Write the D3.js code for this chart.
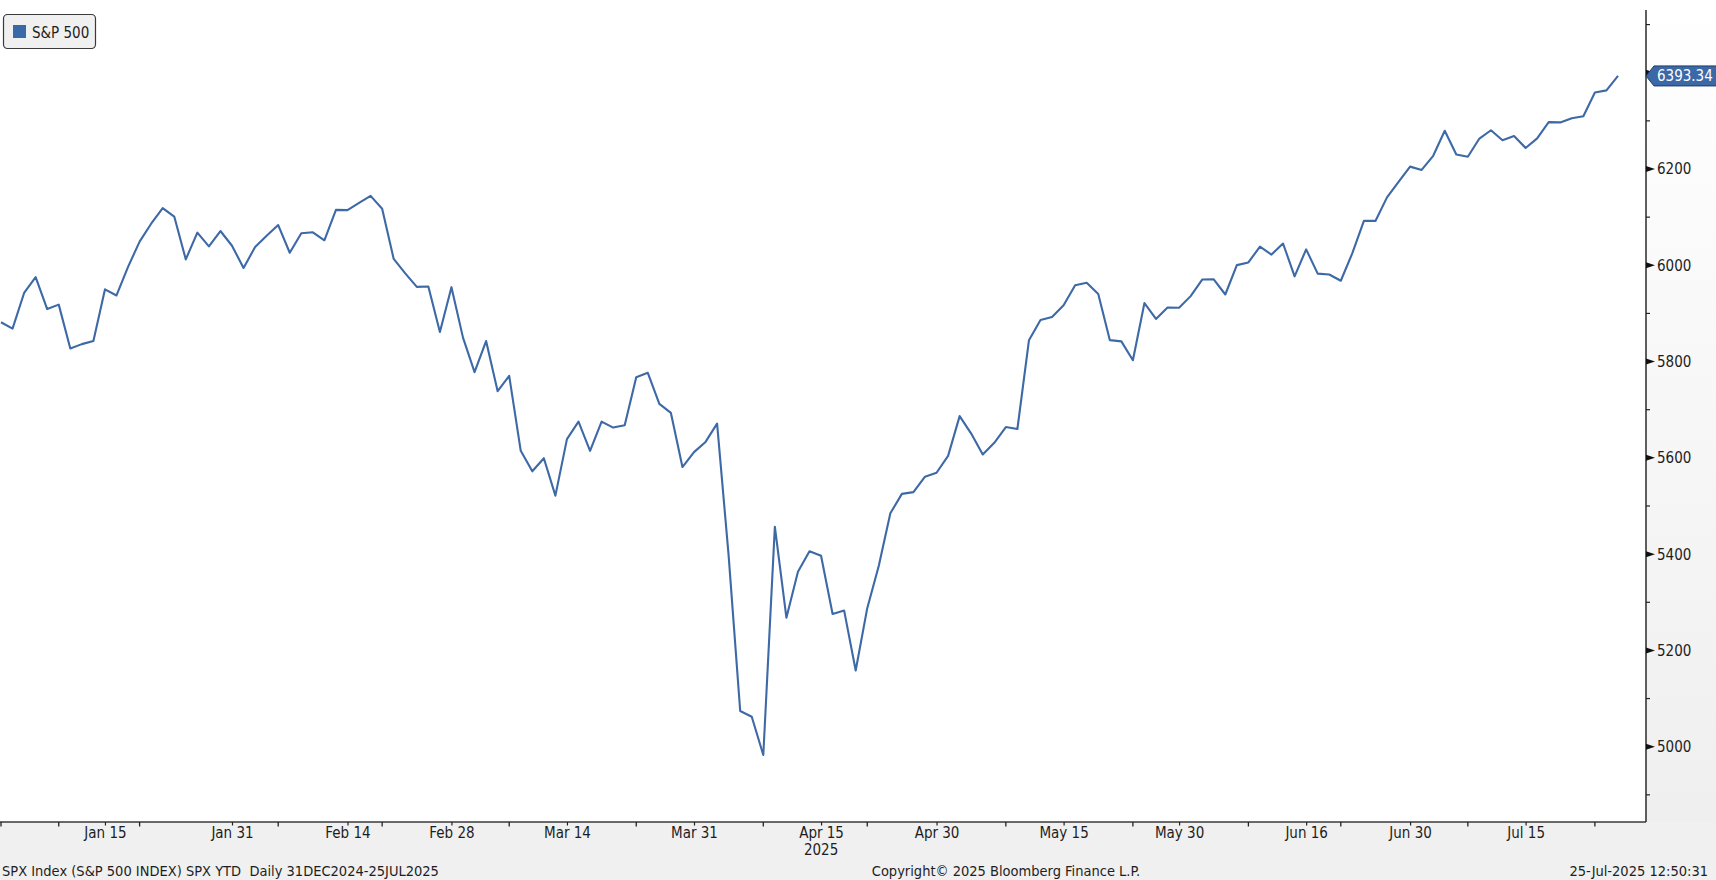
<!DOCTYPE html>
<html>
<head>
<meta charset="utf-8">
<script src="https://cdn.jsdelivr.net/npm/d3@7"></script>
<style>
  html, body { margin: 0; padding: 0; background: #f0f0f0; }
  svg { display: block; }
  text { font-family: "DejaVu Sans Condensed", "DejaVu Sans", sans-serif; }
</style>
</head>
<body>
<svg id="chart" width="1716" height="880"></svg>
<script>
// ---------- DATA ----------
const seriesName = "S&P 500";
const dates = [
  "2024-12-31",
  "2025-01-02","2025-01-03","2025-01-06","2025-01-07","2025-01-08","2025-01-10","2025-01-13","2025-01-14","2025-01-15","2025-01-16","2025-01-17","2025-01-21","2025-01-22","2025-01-23","2025-01-24","2025-01-27","2025-01-28","2025-01-29","2025-01-30","2025-01-31",
  "2025-02-03","2025-02-04","2025-02-05","2025-02-06","2025-02-07","2025-02-10","2025-02-11","2025-02-12","2025-02-13","2025-02-14","2025-02-18","2025-02-19","2025-02-20","2025-02-21","2025-02-24","2025-02-25","2025-02-26","2025-02-27","2025-02-28",
  "2025-03-03","2025-03-04","2025-03-05","2025-03-06","2025-03-07","2025-03-10","2025-03-11","2025-03-12","2025-03-13","2025-03-14","2025-03-17","2025-03-18","2025-03-19","2025-03-20","2025-03-21","2025-03-24","2025-03-25","2025-03-26","2025-03-27","2025-03-28","2025-03-31",
  "2025-04-01","2025-04-02","2025-04-03","2025-04-04","2025-04-07","2025-04-08","2025-04-09","2025-04-10","2025-04-11","2025-04-14","2025-04-15","2025-04-16","2025-04-17","2025-04-21","2025-04-22","2025-04-23","2025-04-24","2025-04-25","2025-04-28","2025-04-29","2025-04-30",
  "2025-05-01","2025-05-02","2025-05-05","2025-05-06","2025-05-07","2025-05-08","2025-05-09","2025-05-12","2025-05-13","2025-05-14","2025-05-15","2025-05-16","2025-05-19","2025-05-20","2025-05-21","2025-05-22","2025-05-23","2025-05-27","2025-05-28","2025-05-29","2025-05-30",
  "2025-06-02","2025-06-03","2025-06-04","2025-06-05","2025-06-06","2025-06-09","2025-06-10","2025-06-11","2025-06-12","2025-06-13","2025-06-16","2025-06-17","2025-06-18","2025-06-20","2025-06-23","2025-06-24","2025-06-25","2025-06-26","2025-06-27","2025-06-30",
  "2025-07-01","2025-07-02","2025-07-03","2025-07-07","2025-07-08","2025-07-09","2025-07-10","2025-07-11","2025-07-14","2025-07-15","2025-07-16","2025-07-17","2025-07-18","2025-07-21","2025-07-22","2025-07-23","2025-07-24","2025-07-25"
];
const closes = [
  5881.63,
  5868.55,5942.47,5975.38,5909.03,5918.25,5827.04,5836.22,5842.91,5949.91,5937.34,5996.66,6049.24,6086.37,6118.71,6101.24,6012.28,6067.70,6039.31,6071.17,6040.53,
  5994.57,6037.88,6061.48,6083.57,6025.99,6066.44,6068.50,6051.97,6115.07,6114.63,6129.58,6144.15,6117.52,6013.13,5983.25,5955.25,5956.06,5861.57,5954.50,
  5849.72,5778.15,5842.63,5738.52,5770.20,5614.56,5572.07,5599.30,5521.52,5638.94,5675.12,5614.66,5675.29,5662.89,5667.56,5767.57,5776.65,5712.20,5693.31,5580.94,5611.85,
  5633.07,5670.97,5396.52,5074.08,5062.25,4982.77,5456.90,5268.05,5363.36,5405.97,5396.63,5275.70,5282.70,5158.20,5287.76,5375.86,5484.77,5525.21,5528.75,5560.83,5569.06,
  5604.14,5686.67,5650.38,5606.91,5631.28,5663.94,5659.91,5844.19,5886.55,5892.58,5916.93,5958.38,5963.60,5940.46,5844.61,5842.01,5802.82,5921.54,5888.55,5912.17,5911.69,
  5935.94,5970.37,5970.81,5939.30,6000.36,6005.88,6038.81,6022.24,6045.26,5976.97,6033.11,5982.72,5980.87,5967.84,6025.17,6092.18,6092.16,6141.02,6173.07,6204.95,
  6198.01,6227.42,6279.35,6229.98,6225.52,6263.26,6280.46,6259.75,6268.56,6243.76,6263.70,6297.36,6296.79,6305.60,6309.62,6358.91,6363.35,6393.34
];
const xLabelDates = ["2025-01-15","2025-01-31","2025-02-14","2025-02-28","2025-03-14","2025-03-31","2025-04-15","2025-04-30","2025-05-15","2025-05-30","2025-06-16","2025-06-30","2025-07-15"];
const xLabels = ["Jan 15","Jan 31","Feb 14","Feb 28","Mar 14","Mar 31","Apr 15","Apr 30","May 15","May 30","Jun 16","Jun 30","Jul 15"];
const xSeparatorDates = ["2024-12-31","2025-01-08","2025-01-21","2025-02-06","2025-02-20","2025-03-07","2025-03-24","2025-04-08","2025-04-22","2025-05-08","2025-05-23","2025-06-09","2025-06-20","2025-07-08","2025-07-23"];
const yearLabelDate = "2025-04-15";
const yearLabel = "2025";
const yMajorTicks = [5000,5200,5400,5600,5800,6000,6200,6400];
const yLabelTicks = [5000,5200,5400,5600,5800,6000,6200];
const yMinorTicks = [4900,5100,5300,5500,5700,5900,6100,6300,6500];
const lastValueLabel = "6393.34";
const footerLeft = "SPX Index (S&P 500 INDEX) SPX YTD  Daily 31DEC2024-25JUL2025";
const footerCenter = "Copyright\u00A9 2025 Bloomberg Finance L.P.";
const footerRight = "25-Jul-2025 12:50:31";

// ---------- LAYOUT ----------
const W = 1716, H = 880;
const plotRight = 1646, plotBottom = 822, axisTop = 10;
const lineColor = "#3d69a6";
const textColor = "#1e1e1e";

const svg = d3.select("#chart");
const defs = svg.append("defs");
const grad = defs.append("linearGradient").attr("id","rg").attr("x1",0).attr("y1",0).attr("x2",0).attr("y2",1);
grad.append("stop").attr("offset","0%").attr("stop-color","#ffffff");
grad.append("stop").attr("offset","100%").attr("stop-color","#efefef");

svg.append("rect").attr("width",W).attr("height",H).attr("fill","#f0f0f0");
svg.append("rect").attr("x",plotRight).attr("y",0).attr("width",W-plotRight).attr("height",plotBottom).attr("fill","url(#rg)");
svg.append("rect").attr("x",0).attr("y",0).attr("width",plotRight).attr("height",plotBottom).attr("fill","#ffffff");

const x = d3.scalePoint().domain(dates).range([1, 1618]);
const y = d3.scaleLinear().domain([5000, 6200]).range([746.7, 169]);

// line
const data = dates.map((d,i)=>({d, v: closes[i]}));
svg.append("path").datum(data)
  .attr("fill","none").attr("stroke",lineColor).attr("stroke-width",2.1)
  .attr("stroke-linejoin","round")
  .attr("d", d3.line().x(p=>x(p.d)).y(p=>y(p.v)));

// x axis
const xAxisG = svg.append("g").attr("transform",`translate(0,${plotBottom})`);
xAxisG.append("line").attr("x1",0).attr("x2",plotRight).attr("y1",0).attr("y2",0)
  .attr("stroke","#3a3a3a").attr("stroke-width",1.5);
xAxisG.selectAll("line.sep").data(xSeparatorDates).join("line").attr("class","sep")
  .attr("x1",d=>x(d)).attr("x2",d=>x(d)).attr("y1",0).attr("y2",4.5)
  .attr("stroke","#222").attr("stroke-width",1.3);
const xAxis = d3.axisBottom(x).tickValues(xLabelDates)
  .tickFormat((d,i)=>xLabels[i]).tickSize(3.5).tickPadding(2);
const xg = xAxisG.append("g").call(xAxis);
xg.select(".domain").remove();
xg.selectAll(".tick line").attr("stroke","#222").attr("stroke-width",1.2);
xg.selectAll(".tick text").attr("font-size",15).attr("fill",textColor)
  .attr("font-family","DejaVu Sans Condensed, DejaVu Sans, sans-serif");
xAxisG.append("text").attr("x",x(yearLabelDate)).attr("y",33).attr("text-anchor","middle")
  .attr("font-size",15).attr("fill",textColor).text(yearLabel);

// y axis
const yg = svg.append("g");
yg.append("line").attr("x1",plotRight).attr("x2",plotRight).attr("y1",axisTop).attr("y2",plotBottom)
  .attr("stroke","#2a2a2a").attr("stroke-width",1.5);
yg.selectAll("line.minor").data(yMinorTicks).join("line").attr("class","minor")
  .attr("x1",plotRight).attr("x2",plotRight+4).attr("y1",d=>y(d)).attr("y2",d=>y(d))
  .attr("stroke","#222").attr("stroke-width",1.2);
yg.selectAll("path.major").data(yMajorTicks).join("path").attr("class","major")
  .attr("d",d=>`M${plotRight},${y(d)-3}L${plotRight+9},${y(d)}L${plotRight},${y(d)+3}Z`)
  .attr("fill","#111");
yg.selectAll("text.ylab").data(yLabelTicks).join("text").attr("class","ylab")
  .attr("x",plotRight+11).attr("y",d=>y(d)).attr("dy","0.36em")
  .attr("font-size",15).attr("fill",textColor).text(d=>d);

// last value tag
const lastV = closes[closes.length-1];
const ty = y(lastV);
svg.append("path")
  .attr("d",`M${plotRight},${ty}L${plotRight+8},${ty-10}L${W+2},${ty-10}L${W+2},${ty+10}L${plotRight+8},${ty+10}Z`)
  .attr("fill","#3b68a6").attr("stroke","#1d3c6b").attr("stroke-width",1);
svg.append("text").attr("x",plotRight+11).attr("y",ty).attr("dy","0.36em")
  .attr("font-size",15).attr("fill","#ffffff").text(lastValueLabel);

// legend
const lg = svg.append("g");
lg.append("rect").attr("x",3.5).attr("y",14.5).attr("width",92).attr("height",34).attr("rx",4)
  .attr("fill","#f0f0f0").attr("stroke","#3a3a3a").attr("stroke-width",1.2);
lg.append("rect").attr("x",13).attr("y",25).attr("width",13).attr("height",13).attr("fill","#3b68a6");
lg.append("text").attr("x",32).attr("y",37.5).attr("font-size",15).attr("fill",textColor).text(seriesName);

// footer
svg.append("text").attr("x",2).attr("y",876).attr("font-size",14.5).attr("fill",textColor)
  .style("white-space","pre").attr("xml:space","preserve").text(footerLeft);
svg.append("text").attr("x",1006).attr("y",876).attr("text-anchor","middle").attr("font-size",14.5).attr("fill",textColor)
  .text(footerCenter);
svg.append("text").attr("x",1708).attr("y",876).attr("text-anchor","end").attr("font-size",14.5).attr("fill",textColor)
  .text(footerRight);
</script>
</body>
</html>
